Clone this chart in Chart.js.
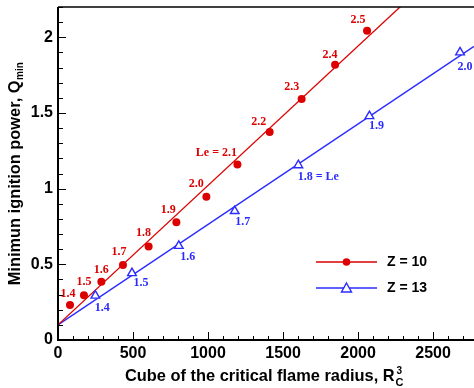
<!DOCTYPE html>
<html>
<head>
<meta charset="utf-8">
<script src="https://cdn.jsdelivr.net/npm/chart.js@4.4.1/dist/chart.umd.min.js"></script>
<style>
  html, body { margin: 0; padding: 0; background: #fff; }
  #wrap { width: 474px; height: 388px; }
</style>
</head>
<body>
<div id="wrap"><canvas id="c" width="474" height="388"></canvas></div>
<script>
// ---- data ----
const seriesNames = ['Z = 10', 'Z = 13'];
const z10X = [80, 173, 289, 433, 604, 789, 989, 1196, 1411, 1624, 1847, 2060];
const z10Y = [0.232, 0.295, 0.385, 0.495, 0.617, 0.778, 0.946, 1.159, 1.374, 1.593, 1.819, 2.043];
const z10Labels = ['1.4', '1.5', '1.6', '1.7', '1.8', '1.9', '2.0', 'Le = 2.1', '2.2', '2.3', '2.4', '2.5'];
const z13X = [249, 493, 805, 1178, 1602, 2076, 2680];
const z13Y = [0.293, 0.442, 0.622, 0.852, 1.155, 1.479, 1.9];
const z13Labels = ['1.4', '1.5', '1.6', '1.7', '1.8 = Le', '1.9', '2.0'];
// fitted straight lines (end points)
const fitX = [0, 2773];
const fit10Y = [0.1, 2.654];
const fit13Y = [0.1, 1.94];
// axes
const xTicks = [0, 500, 1000, 1500, 2000, 2500];
const yTicks = [0, 0.5, 1, 1.5, 2];
const xRange = [0, 2773];
const yRange = [0, 2.2];

// ---- label offsets (pixels, relative to the point) ----
const z10LabelOffsets = [[-2,-11],[0,-13],[0,-12],[-4,-13],[-5,-14],[-8,-12],[-10,-13],[-21,-12],[-11,-10],[-10,-12],[-5,-10],[-9,-11]];
const z13LabelOffsets = [[7,12],[9,10],[9,11],[8,11],[20,12],[7,10],[5,14]];

const RED = '#dd0000';
const BLUE = '#2b2bff';
const SANS = '"Liberation Sans", Arial, sans-serif';

const toPts = (xs, ys) => xs.map((x, i) => ({ x: x, y: ys[i] }));

const decorPlugin = {
  id: 'decor',
  afterDraw(chart) {
    const ctx = chart.ctx;
    const a = chart.chartArea;
    const xs = chart.scales.x, ys = chart.scales.y;
    ctx.save();
    // frame: left, bottom, top
    ctx.strokeStyle = '#000';
    ctx.lineWidth = 2;
    ctx.beginPath();
    ctx.moveTo(a.left, a.top); ctx.lineTo(a.left, a.bottom);
    ctx.moveTo(a.left - 1, a.bottom); ctx.lineTo(a.right, a.bottom);
    ctx.stroke();
    ctx.lineWidth = 1.5;
    ctx.beginPath();
    ctx.moveTo(a.left, a.top); ctx.lineTo(a.right, a.top);
    ctx.stroke();
    // inward ticks
    ctx.lineWidth = 1;
    ctx.beginPath();
    for (let v = 0; v <= xRange[1]; v += 100) {
      const px = Math.round(xs.getPixelForValue(v)) + 0.5;
      const len = (v % 500 === 0) ? 8 : 4;
      ctx.moveTo(px, a.bottom); ctx.lineTo(px, a.bottom - len);
    }
    for (let k = 0; k <= 22; k++) {
      const v = k / 10;
      const py = Math.round(ys.getPixelForValue(v)) + 0.5;
      const len = (k % 5 === 0) ? 8 : 5;
      ctx.moveTo(a.left, py); ctx.lineTo(a.left + len, py);
    }
    ctx.stroke();

    // point labels
    ctx.font = 'bold 12px "Liberation Serif", "Times New Roman", serif';
    ctx.textAlign = 'center';
    ctx.textBaseline = 'middle';
    ctx.fillStyle = RED;
    z10Labels.forEach((t, i) => {
      const px = xs.getPixelForValue(z10X[i]), py = ys.getPixelForValue(z10Y[i]);
      ctx.fillText(t, px + z10LabelOffsets[i][0], py + z10LabelOffsets[i][1]);
    });
    ctx.fillStyle = BLUE;
    z13Labels.forEach((t, i) => {
      const px = xs.getPixelForValue(z13X[i]), py = ys.getPixelForValue(z13Y[i]);
      ctx.fillText(t, px + z13LabelOffsets[i][0], py + z13LabelOffsets[i][1]);
    });

    // legend
    const legendRows = [
      { name: seriesNames[0], color: RED, y: 262, marker: 'circle' },
      { name: seriesNames[1], color: BLUE, y: 288, marker: 'triangle' }
    ];
    legendRows.forEach(r => {
      ctx.strokeStyle = r.color;
      ctx.lineWidth = 1.3;
      ctx.beginPath();
      ctx.moveTo(316, r.y); ctx.lineTo(377, r.y);
      ctx.stroke();
      if (r.marker === 'circle') {
        ctx.fillStyle = r.color;
        ctx.beginPath(); ctx.arc(346.5, r.y, 3.8, 0, Math.PI * 2); ctx.fill();
      } else {
        ctx.fillStyle = '#fff';
        ctx.beginPath();
        ctx.moveTo(346.5, r.y - 5); ctx.lineTo(351.5, r.y + 4); ctx.lineTo(341.5, r.y + 4); ctx.closePath();
        ctx.fill(); ctx.lineWidth = 1.4; ctx.stroke();
      }
      ctx.fillStyle = '#000';
      ctx.font = 'bold 14px ' + SANS;
      ctx.textAlign = 'left';
      ctx.textBaseline = 'middle';
      ctx.fillText(r.name, 387, r.y + 0.5);
    });

    // x axis title with R_C^3
    ctx.fillStyle = '#000';
    ctx.textBaseline = 'alphabetic';
    ctx.textAlign = 'left';
    const xMain = 'Cube of the critical flame radius, R';
    ctx.font = 'bold 16.4px ' + SANS;
    const wMain = ctx.measureText(xMain).width;
    const x0 = 125;
    ctx.fillText(xMain, x0, 381);
    ctx.font = 'bold 11px ' + SANS;
    ctx.fillText('C', x0 + wMain + 1, 386);
    ctx.font = 'bold 10px ' + SANS;
    ctx.fillText('3', x0 + wMain + 2, 374);

    // y axis title with Q_min
    ctx.save();
    ctx.translate(20, 174);
    ctx.rotate(-Math.PI / 2);
    const yMain = 'Minimun ignition power, Q';
    ctx.font = 'bold 16.4px ' + SANS;
    const wy = ctx.measureText(yMain).width;
    ctx.font = 'bold 10px ' + SANS;
    const wys = ctx.measureText('min').width;
    const y0 = -(wy + wys) / 2;
    ctx.font = 'bold 16.4px ' + SANS;
    ctx.fillText(yMain, y0, 0);
    ctx.font = 'bold 10px ' + SANS;
    ctx.fillText('min', y0 + wy + 0.5, 3);
    ctx.restore();

    ctx.restore();
  }
};

new Chart(document.getElementById('c'), {
  type: 'scatter',
  data: {
    datasets: [
      { label: seriesNames[0] + ' fit', data: toPts(fitX, fit10Y), showLine: true, borderColor: RED, borderWidth: 1.3, pointRadius: 0, order: 3 },
      { label: seriesNames[1] + ' fit', data: toPts(fitX, fit13Y), showLine: true, borderColor: BLUE, borderWidth: 1.3, pointRadius: 0, order: 4 },
      { label: seriesNames[0], data: toPts(z10X, z10Y), showLine: false, pointStyle: 'circle', pointRadius: 4, backgroundColor: RED, borderColor: RED, borderWidth: 0, order: 1 },
      { label: seriesNames[1], data: toPts(z13X, z13Y), showLine: false, pointStyle: 'triangle', pointRadius: 5, backgroundColor: '#fff', borderColor: BLUE, borderWidth: 1.4, order: 2 }
    ]
  },
  options: {
    responsive: false,
    animation: false,
    devicePixelRatio: 1,
    layout: { autoPadding: false, padding: { top: 7, right: 0, left: 0, bottom: 0 } },
    plugins: { legend: { display: false }, tooltip: { enabled: false } },
    scales: {
      x: {
        type: 'linear', min: xRange[0], max: xRange[1],
        grid: { display: false, drawTicks: false },
        border: { display: false },
        afterBuildTicks: s => { s.ticks = xTicks.map(v => ({ value: v })); },
        afterFit: s => { s.height = 48; s.paddingLeft = 0; s.paddingRight = 0; },
        ticks: { padding: 4, color: '#000', maxRotation: 0, font: { family: SANS, size: 16, weight: 'bold' }, callback: v => String(v) }
      },
      y: {
        type: 'linear', min: yRange[0], max: yRange[1],
        grid: { display: false, drawTicks: false },
        border: { display: false },
        afterBuildTicks: s => { s.ticks = yTicks.map(v => ({ value: v })); },
        afterFit: s => { s.width = 58; s.paddingTop = 0; s.paddingBottom = 0; },
        ticks: { padding: 5, color: '#000', font: { family: SANS, size: 16, weight: 'bold' }, callback: v => String(v) }
      }
    }
  },
  plugins: [decorPlugin]
});
</script>
</body>
</html>
